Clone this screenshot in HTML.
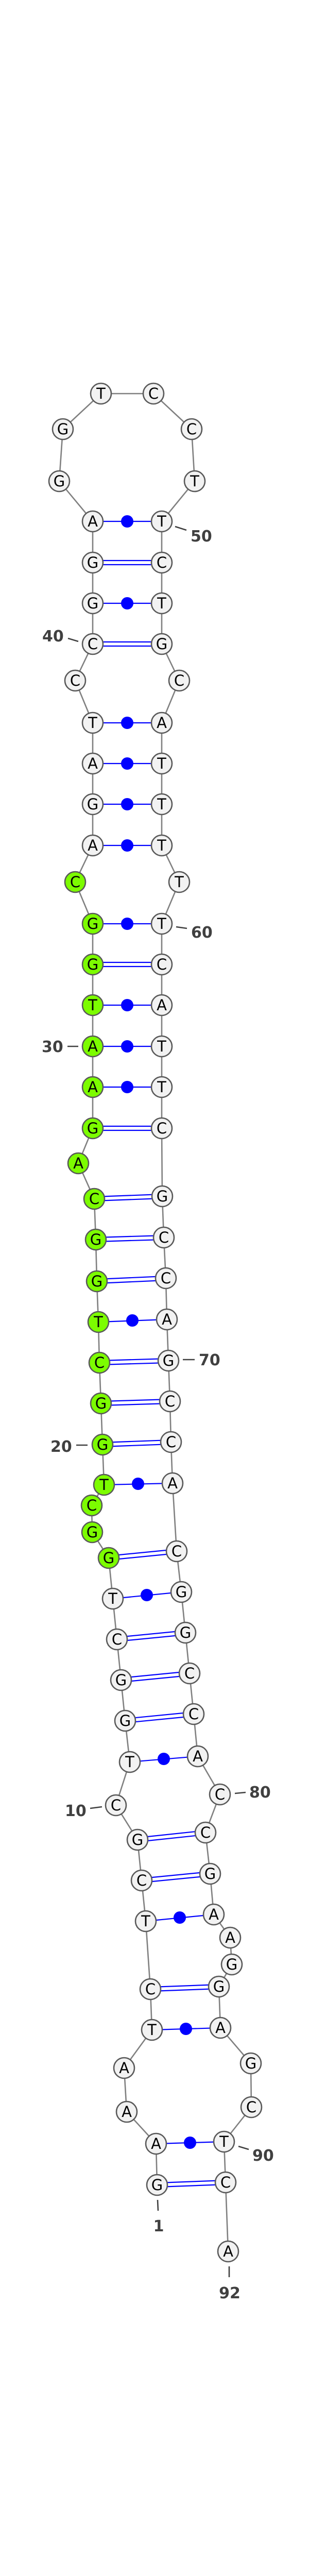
<!DOCTYPE html>
<html><head><meta charset="utf-8"><style>
html,body{margin:0;padding:0;background:#fff;width:600px;height:5152px;overflow:hidden;}
svg{display:block;position:absolute;left:0;top:0;}
.n circle{stroke:#595959;stroke-width:2.6;}
.w circle{fill:#f2f2f2;}
.g circle{fill:#7cfc00;}
.n text{font-family:"DejaVu Sans","Liberation Sans",sans-serif;font-size:29px;text-anchor:middle;fill:#000;}
.lb{font-family:"DejaVu Sans","Liberation Sans",sans-serif;font-weight:bold;font-size:30px;fill:#404040;}
.tk{stroke:#404040;stroke-width:2.6;}
.p{stroke:#0000ff;stroke-width:2.2;fill:none;}
</style></head><body>
<svg width="600" height="5152" viewBox="0 0 600 5152" xmlns="http://www.w3.org/2000/svg">
<polyline fill="none" stroke="#808080" stroke-width="2.6" points="305,4241 303,4161 246,4099 241,4014 295,3940 292,3861 283,3729 275,3650 267,3571 225,3504 252,3420 243,3340 235,3261 227,3182 219,3103 211,3024 179,2974 178,2922 202,2882 199,2804 196,2724 193,2645 191,2566 188,2487 186,2406 183,2327 152,2258 180,2190 180,2110 180,2031 180,1951 180,1872 180,1793 146,1712 180,1641 180,1561 180,1482 180,1403 146,1321 180,1250 180,1171 180,1092 180,1012 115,934 122,833 196,764 298,764 372,833 378,934 314,1012 314,1092 314,1171 314,1250 348,1321 314,1403 314,1482 314,1561 314,1641 348,1712 314,1793 314,1872 314,1951 314,2031 314,2110 314,2190 315,2322 318,2402 322,2481 324,2561 327,2641 330,2720 332,2799 335,2879 343,3011 352,3090 360,3169 368,3248 376,3327 384,3409 427,3483 399,3557 408,3637 415,3716 447,3761 450,3813 425,3856 428,3936 487,4005 488,4090 435,4157 438,4236 443,4370"/>
<g class="p">
<path d="M305,4237L438,4232M305,4245L438,4240"/>
<path d="M292,3857L425,3852M292,3865L425,3860"/>
<path d="M275,3646L408,3633M275,3654L408,3641"/>
<path d="M267,3567L399,3553M267,3575L399,3561"/>
<path d="M243,3336L376,3323M243,3344L376,3331"/>
<path d="M235,3257L368,3244M235,3265L368,3252"/>
<path d="M227,3178L360,3165M227,3186L360,3173"/>
<path d="M211,3020L343,3007M211,3028L343,3015"/>
<path d="M199,2800L332,2795M199,2808L332,2803"/>
<path d="M196,2720L330,2716M196,2728L330,2724"/>
<path d="M193,2641L327,2637M193,2649L327,2645"/>
<path d="M188,2483L322,2477M188,2491L322,2485"/>
<path d="M186,2402L318,2398M186,2410L318,2406"/>
<path d="M183,2323L315,2318M183,2331L315,2326"/>
<path d="M180,2186L314,2186M180,2194L314,2194"/>
<path d="M180,1868L314,1868M180,1876L314,1876"/>
<path d="M180,1246L314,1246M180,1254L314,1254"/>
<path d="M180,1088L314,1088M180,1096L314,1096"/>
</g>
<g class="p">
<path d="M303,4161L435,4157"/><path d="M295,3940L428,3936"/><path d="M283,3729L415,3716"/><path d="M252,3420L384,3409"/><path d="M219,3103L352,3090"/><path d="M202,2882L335,2879"/><path d="M191,2566L324,2561"/><path d="M180,2110L314,2110"/><path d="M180,2031L314,2031"/><path d="M180,1951L314,1951"/><path d="M180,1793L314,1793"/><path d="M180,1641L314,1641"/><path d="M180,1561L314,1561"/><path d="M180,1482L314,1482"/><path d="M180,1403L314,1403"/><path d="M180,1171L314,1171"/><path d="M180,1012L314,1012"/>
</g>
<g fill="#0000ff">
<ellipse cx="369" cy="4159" rx="12" ry="12"/><ellipse cx="361" cy="3938" rx="12" ry="12"/><ellipse cx="349" cy="3722" rx="12" ry="12"/><ellipse cx="318" cy="3414" rx="12" ry="12"/><ellipse cx="285" cy="3096" rx="12" ry="12"/><ellipse cx="268" cy="2880" rx="12" ry="12"/><ellipse cx="257" cy="2563" rx="12" ry="12"/><ellipse cx="247" cy="2110" rx="12" ry="12"/><ellipse cx="247" cy="2031" rx="12" ry="12"/><ellipse cx="247" cy="1951" rx="12" ry="12"/><ellipse cx="247" cy="1793" rx="12" ry="12"/><ellipse cx="247" cy="1641" rx="12" ry="12"/><ellipse cx="247" cy="1561" rx="12" ry="12"/><ellipse cx="247" cy="1482" rx="12" ry="12"/><ellipse cx="247" cy="1403" rx="12" ry="12"/><ellipse cx="247" cy="1171" rx="12" ry="12"/><ellipse cx="247" cy="1012" rx="12" ry="12"/>
</g>
<g class="n w"><circle cx="305" cy="4241" r="20"/><text x="305" y="4251">G</text></g>
<g class="n w"><circle cx="303" cy="4161" r="20"/><text x="303" y="4171">A</text></g>
<g class="n w"><circle cx="246" cy="4099" r="20"/><text x="246" y="4109">A</text></g>
<g class="n w"><circle cx="241" cy="4014" r="20"/><text x="241" y="4024">A</text></g>
<g class="n w"><circle cx="295" cy="3940" r="20"/><text x="295" y="3950">T</text></g>
<g class="n w"><circle cx="292" cy="3861" r="20"/><text x="292" y="3871">C</text></g>
<g class="n w"><circle cx="283" cy="3729" r="20"/><text x="283" y="3739">T</text></g>
<g class="n w"><circle cx="275" cy="3650" r="20"/><text x="275" y="3660">C</text></g>
<g class="n w"><circle cx="267" cy="3571" r="20"/><text x="267" y="3581">G</text></g>
<g class="n w"><circle cx="225" cy="3504" r="20"/><text x="225" y="3514">C</text></g>
<g class="n w"><circle cx="252" cy="3420" r="20"/><text x="252" y="3430">T</text></g>
<g class="n w"><circle cx="243" cy="3340" r="20"/><text x="243" y="3350">G</text></g>
<g class="n w"><circle cx="235" cy="3261" r="20"/><text x="235" y="3271">G</text></g>
<g class="n w"><circle cx="227" cy="3182" r="20"/><text x="227" y="3192">C</text></g>
<g class="n w"><circle cx="219" cy="3103" r="20"/><text x="219" y="3113">T</text></g>
<g class="n g"><circle cx="211" cy="3024" r="20"/><text x="211" y="3034">G</text></g>
<g class="n g"><circle cx="179" cy="2974" r="20"/><text x="179" y="2984">G</text></g>
<g class="n g"><circle cx="178" cy="2922" r="20"/><text x="178" y="2932">C</text></g>
<g class="n g"><circle cx="202" cy="2882" r="20"/><text x="202" y="2892">T</text></g>
<g class="n g"><circle cx="199" cy="2804" r="20"/><text x="199" y="2814">G</text></g>
<g class="n g"><circle cx="196" cy="2724" r="20"/><text x="196" y="2734">G</text></g>
<g class="n g"><circle cx="193" cy="2645" r="20"/><text x="193" y="2655">C</text></g>
<g class="n g"><circle cx="191" cy="2566" r="20"/><text x="191" y="2576">T</text></g>
<g class="n g"><circle cx="188" cy="2487" r="20"/><text x="188" y="2497">G</text></g>
<g class="n g"><circle cx="186" cy="2406" r="20"/><text x="186" y="2416">G</text></g>
<g class="n g"><circle cx="183" cy="2327" r="20"/><text x="183" y="2337">C</text></g>
<g class="n g"><circle cx="152" cy="2258" r="20"/><text x="152" y="2268">A</text></g>
<g class="n g"><circle cx="180" cy="2190" r="20"/><text x="180" y="2200">G</text></g>
<g class="n g"><circle cx="180" cy="2110" r="20"/><text x="180" y="2120">A</text></g>
<g class="n g"><circle cx="180" cy="2031" r="20"/><text x="180" y="2041">A</text></g>
<g class="n g"><circle cx="180" cy="1951" r="20"/><text x="180" y="1961">T</text></g>
<g class="n g"><circle cx="180" cy="1872" r="20"/><text x="180" y="1882">G</text></g>
<g class="n g"><circle cx="180" cy="1793" r="20"/><text x="180" y="1803">G</text></g>
<g class="n g"><circle cx="146" cy="1712" r="20"/><text x="146" y="1722">C</text></g>
<g class="n w"><circle cx="180" cy="1641" r="20"/><text x="180" y="1651">A</text></g>
<g class="n w"><circle cx="180" cy="1561" r="20"/><text x="180" y="1571">G</text></g>
<g class="n w"><circle cx="180" cy="1482" r="20"/><text x="180" y="1492">A</text></g>
<g class="n w"><circle cx="180" cy="1403" r="20"/><text x="180" y="1413">T</text></g>
<g class="n w"><circle cx="146" cy="1321" r="20"/><text x="146" y="1331">C</text></g>
<g class="n w"><circle cx="180" cy="1250" r="20"/><text x="180" y="1260">C</text></g>
<g class="n w"><circle cx="180" cy="1171" r="20"/><text x="180" y="1181">G</text></g>
<g class="n w"><circle cx="180" cy="1092" r="20"/><text x="180" y="1102">G</text></g>
<g class="n w"><circle cx="180" cy="1012" r="20"/><text x="180" y="1022">A</text></g>
<g class="n w"><circle cx="115" cy="934" r="20"/><text x="115" y="944">G</text></g>
<g class="n w"><circle cx="122" cy="833" r="20"/><text x="122" y="843">G</text></g>
<g class="n w"><circle cx="196" cy="764" r="20"/><text x="196" y="774">T</text></g>
<g class="n w"><circle cx="298" cy="764" r="20"/><text x="298" y="774">C</text></g>
<g class="n w"><circle cx="372" cy="833" r="20"/><text x="372" y="843">C</text></g>
<g class="n w"><circle cx="378" cy="934" r="20"/><text x="378" y="944">T</text></g>
<g class="n w"><circle cx="314" cy="1012" r="20"/><text x="314" y="1022">T</text></g>
<g class="n w"><circle cx="314" cy="1092" r="20"/><text x="314" y="1102">C</text></g>
<g class="n w"><circle cx="314" cy="1171" r="20"/><text x="314" y="1181">T</text></g>
<g class="n w"><circle cx="314" cy="1250" r="20"/><text x="314" y="1260">G</text></g>
<g class="n w"><circle cx="348" cy="1321" r="20"/><text x="348" y="1331">C</text></g>
<g class="n w"><circle cx="314" cy="1403" r="20"/><text x="314" y="1413">A</text></g>
<g class="n w"><circle cx="314" cy="1482" r="20"/><text x="314" y="1492">T</text></g>
<g class="n w"><circle cx="314" cy="1561" r="20"/><text x="314" y="1571">T</text></g>
<g class="n w"><circle cx="314" cy="1641" r="20"/><text x="314" y="1651">T</text></g>
<g class="n w"><circle cx="348" cy="1712" r="20"/><text x="348" y="1722">T</text></g>
<g class="n w"><circle cx="314" cy="1793" r="20"/><text x="314" y="1803">T</text></g>
<g class="n w"><circle cx="314" cy="1872" r="20"/><text x="314" y="1882">C</text></g>
<g class="n w"><circle cx="314" cy="1951" r="20"/><text x="314" y="1961">A</text></g>
<g class="n w"><circle cx="314" cy="2031" r="20"/><text x="314" y="2041">T</text></g>
<g class="n w"><circle cx="314" cy="2110" r="20"/><text x="314" y="2120">T</text></g>
<g class="n w"><circle cx="314" cy="2190" r="20"/><text x="314" y="2200">C</text></g>
<g class="n w"><circle cx="315" cy="2322" r="20"/><text x="315" y="2332">G</text></g>
<g class="n w"><circle cx="318" cy="2402" r="20"/><text x="318" y="2412">C</text></g>
<g class="n w"><circle cx="322" cy="2481" r="20"/><text x="322" y="2491">C</text></g>
<g class="n w"><circle cx="324" cy="2561" r="20"/><text x="324" y="2571">A</text></g>
<g class="n w"><circle cx="327" cy="2641" r="20"/><text x="327" y="2651">G</text></g>
<g class="n w"><circle cx="330" cy="2720" r="20"/><text x="330" y="2730">C</text></g>
<g class="n w"><circle cx="332" cy="2799" r="20"/><text x="332" y="2809">C</text></g>
<g class="n w"><circle cx="335" cy="2879" r="20"/><text x="335" y="2889">A</text></g>
<g class="n w"><circle cx="343" cy="3011" r="20"/><text x="343" y="3021">C</text></g>
<g class="n w"><circle cx="352" cy="3090" r="20"/><text x="352" y="3100">G</text></g>
<g class="n w"><circle cx="360" cy="3169" r="20"/><text x="360" y="3179">G</text></g>
<g class="n w"><circle cx="368" cy="3248" r="20"/><text x="368" y="3258">C</text></g>
<g class="n w"><circle cx="376" cy="3327" r="20"/><text x="376" y="3337">C</text></g>
<g class="n w"><circle cx="384" cy="3409" r="20"/><text x="384" y="3419">A</text></g>
<g class="n w"><circle cx="427" cy="3483" r="20"/><text x="427" y="3493">C</text></g>
<g class="n w"><circle cx="399" cy="3557" r="20"/><text x="399" y="3567">C</text></g>
<g class="n w"><circle cx="408" cy="3637" r="20"/><text x="408" y="3647">G</text></g>
<g class="n w"><circle cx="415" cy="3716" r="20"/><text x="415" y="3726">A</text></g>
<g class="n w"><circle cx="447" cy="3761" r="20"/><text x="447" y="3771">A</text></g>
<g class="n w"><circle cx="450" cy="3813" r="20"/><text x="450" y="3823">G</text></g>
<g class="n w"><circle cx="425" cy="3856" r="20"/><text x="425" y="3866">G</text></g>
<g class="n w"><circle cx="428" cy="3936" r="20"/><text x="428" y="3946">A</text></g>
<g class="n w"><circle cx="487" cy="4005" r="20"/><text x="487" y="4015">G</text></g>
<g class="n w"><circle cx="488" cy="4090" r="20"/><text x="488" y="4100">C</text></g>
<g class="n w"><circle cx="435" cy="4157" r="20"/><text x="435" y="4167">T</text></g>
<g class="n w"><circle cx="438" cy="4236" r="20"/><text x="438" y="4246">C</text></g>
<g class="n w"><circle cx="443" cy="4370" r="20"/><text x="443" y="4380">A</text></g>
<line class="tk" x1="340" y1="1022" x2="362" y2="1029"/><text class="lb" x="370" y="1051">50</text>
<line class="tk" x1="132" y1="1239" x2="152" y2="1245"/><text class="lb" x="82" y="1245">40</text>
<line class="tk" x1="342" y1="1799" x2="363" y2="1802"/><text class="lb" x="371" y="1820">60</text>
<line class="tk" x1="131" y1="2031" x2="152" y2="2031"/><text class="lb" x="81" y="2042">30</text>
<line class="tk" x1="355" y1="2639" x2="378" y2="2639"/><text class="lb" x="386" y="2650">70</text>
<line class="tk" x1="148" y1="2805" x2="170" y2="2805"/><text class="lb" x="98" y="2818">20</text>
<line class="tk" x1="456" y1="3481" x2="477" y2="3479"/><text class="lb" x="484" y="3489">80</text>
<line class="tk" x1="175" y1="3510" x2="198" y2="3507"/><text class="lb" x="126" y="3525">10</text>
<line class="tk" x1="463" y1="4166" x2="483" y2="4172"/><text class="lb" x="490" y="4194">90</text>
<line class="tk" x1="306" y1="4270" x2="307" y2="4291"/><text class="lb" x="308" y="4331" text-anchor="middle">1</text>
<line class="tk" x1="445" y1="4399" x2="445" y2="4420"/><text class="lb" x="446" y="4461" text-anchor="middle">92</text>
<text x="300" y="5144" text-anchor="middle" style="font-family:'DejaVu Sans','Liberation Sans',sans-serif;font-weight:bold;font-size:10px;fill:#000">dan_153_annot [-41.0]</text>
</svg>
</body></html>
